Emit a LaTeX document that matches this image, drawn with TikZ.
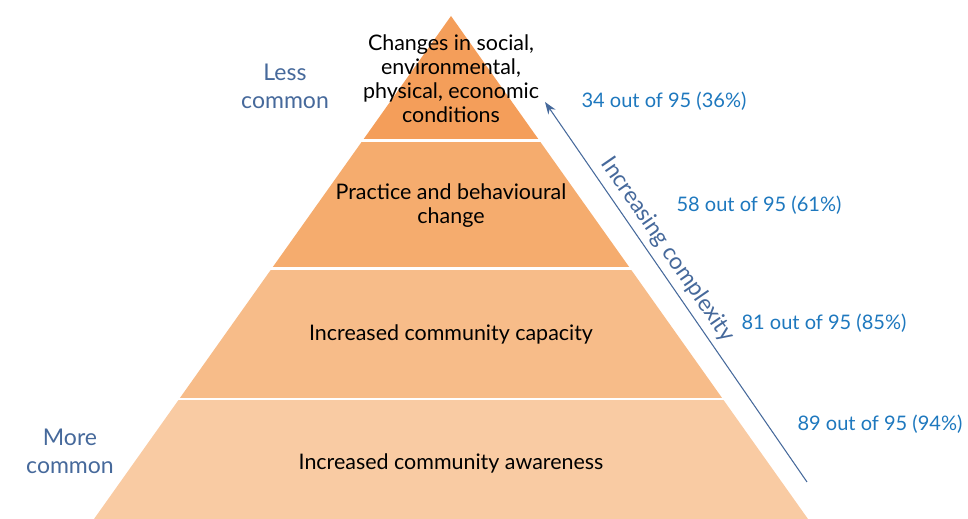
\documentclass[tikz,border=0pt]{standalone}
\usepackage{fontspec}
\setmainfont{Lato}
\usetikzlibrary{arrows.meta}

\definecolor{bandA}{RGB}{244,158,90}
\definecolor{bandB}{RGB}{245,172,110}
\definecolor{bandC}{RGB}{247,188,137}
\definecolor{bandD}{RGB}{249,203,163}
\definecolor{sideblue}{RGB}{70,105,155}
\definecolor{countblue}{RGB}{30,120,190}

\begin{document}
\begin{tikzpicture}[x=0.02cm, y=-0.02cm,
    level/.style={align=center, text=black, font=\fontsize{12.2}{13.6}\selectfont},
    count/.style={text=countblue, font=\fontsize{11.4}{13.6}\selectfont},
    side/.style={align=center, text=sideblue, font=\fontsize{13.1}{15.9}\selectfont},
    gap/.style={white, line width=1.7pt}]
    \useasboundingbox (0,0) rectangle (968,519);

    % Define the points of the pyramid
    \coordinate (T) at (451,16);
    \coordinate (L1) at (362.3,141);  \coordinate (R1) at (539.7,141);
    \coordinate (L2) at (271.4,269);  \coordinate (R2) at (630.6,269);
    \coordinate (L3) at (179.2,399);  \coordinate (R3) at (722.8,399);
    \coordinate (L4) at (94,519);     \coordinate (R4) at (808,519);

    % Fill the four bands
    \fill[bandA] (T) -- (R1) -- (L1) -- cycle;
    \fill[bandB] (L1) -- (R1) -- (R2) -- (L2) -- cycle;
    \fill[bandC] (L2) -- (R2) -- (R3) -- (L3) -- cycle;
    \fill[bandD] (L3) -- (R3) -- (R4) -- (L4) -- cycle;

    % White gaps between the bands
    \draw[gap] ([xshift=-4]L1) -- ([xshift=4]R1);
    \draw[gap] ([xshift=-4]L2) -- ([xshift=4]R2);
    \draw[gap] ([xshift=-4]L3) -- ([xshift=4]R3);

    % Labels inside the bands
    \node[level] (changes) at (451,79) {Changes in social,\\environmental,\\physical, economic\\conditions};
    \node[level] (practice) at (451,206) {Practice and behavioural\\change};
    \node[level] (capacity) at (451,334) {Increased community capacity};
    \node[level] (awareness) at (451,463) {Increased community awareness};

    % Labels on the left
    \node[side] (less) at (285,86) {Less\\common};
    \node[side] (more) at (70,451) {More\\common};

    % Counts on the right
    \node[count] (countA) at (664,101) {34 out of 95 (36\%)};
    \node[count] (countB) at (759,205) {58 out of 95 (61\%)};
    \node[count] (countC) at (824,323) {81 out of 95 (85\%)};
    \node[count] (countD) at (880,424) {89 out of 95 (94\%)};

    % Draw the arrow along the side
    \coordinate (S) at (807,482);
    \coordinate (E) at (545,102);
    \draw[sideblue, line width=0.6pt, -{Stealth[length=7pt, width=5pt]}] (S) -- (E)
        node[pos=0.585, sloped, above, text=sideblue, font=\fontsize{13.1}{14}\selectfont] {Increasing complexity};
\end{tikzpicture}
\end{document}
